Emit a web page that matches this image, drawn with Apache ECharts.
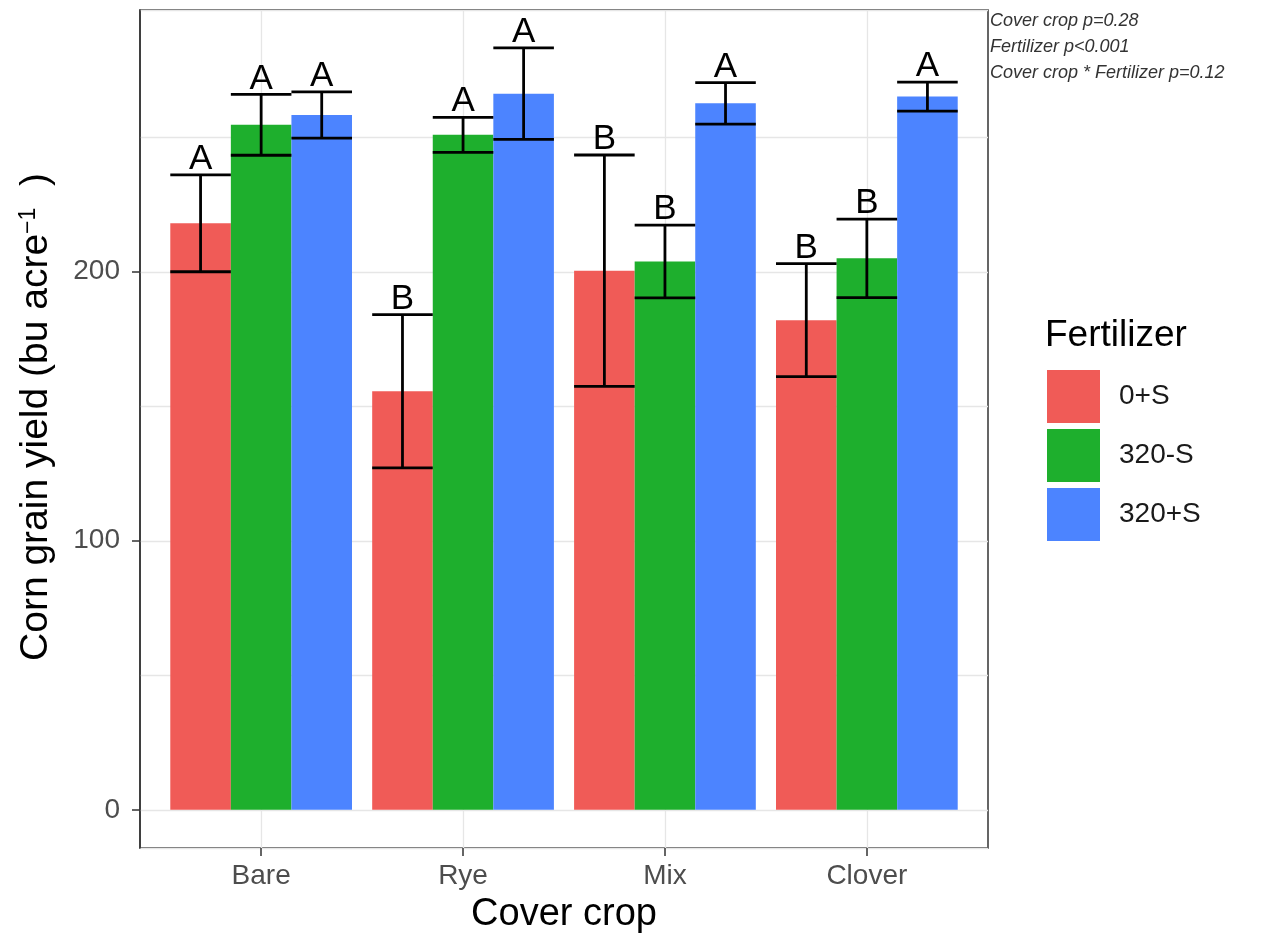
<!DOCTYPE html>
<html>
<head>
<meta charset="utf-8">
<script src="https://cdn.jsdelivr.net/npm/echarts@6/dist/echarts.min.js"></script>
<style>
html,body{margin:0;padding:0;background:#fff;}
#chart{width:1261px;height:939px;}
</style>
</head>
<body>
<div id="chart"></div>
<script>
// ---- data ----
const categories = ['Bare', 'Rye', 'Mix', 'Clover'];
const fertilizers = ['0+S', '320-S', '320+S'];
const yield0S   = [218.0, 155.6, 200.4, 182.0];
const yield320mS = [254.6, 250.9, 203.8, 205.0];
const yield320pS = [258.3, 266.2, 262.6, 265.1];
const err0S   = [18.0, 28.5, 43.0, 21.0];
const err320mS = [11.3, 6.5, 13.5, 14.6];
const err320pS = [8.6, 17.0, 7.7, 5.4];
const letters0S   = ['A', 'B', 'B', 'B'];
const letters320mS = ['A', 'A', 'B', 'B'];
const letters320pS = ['A', 'A', 'A', 'A'];
const yTickValues = [0, 100, 200];
const statsLines = ['Cover crop p=0.28', 'Fertilizer p<0.001', 'Cover crop * Fertilizer p=0.12'];

const colors = ['#F05B57', '#1EAF2D', '#4C84FF'];
const FONT = 'Liberation Sans, Arial, Helvetica, sans-serif';
const yMin = -14.2, yMax = 297.3;

const means = [yield0S, yield320mS, yield320pS];
const errs = [err0S, err320mS, err320pS];
const letters = [letters0S, letters320mS, letters320pS];

const errData = [];
const errLetters = [];
for (let s = 0; s < 3; s++) {
  for (let c = 0; c < categories.length; c++) {
    errData.push([c, s, means[s][c] - errs[s][c], means[s][c] + errs[s][c]]);
    errLetters.push(letters[s][c]);
  }
}

const chart = echarts.init(document.getElementById('chart'), null, {renderer: 'canvas'});

const gridTop = 10, gridBottom = 91;
const panelLeft = 140, panelRight = 273; // 140..988
const bandExpand = 0.1 * 848 / 4.2;

const option = {
  backgroundColor: '#fff',
  animation: false,
  textStyle: {fontFamily: FONT},
  grid: [
    {left: panelLeft, right: panelRight, top: gridTop, bottom: gridBottom, show: true,
     borderColor: '#333', borderWidth: 1.5, backgroundColor: '#fff', containLabel: false},
    {left: panelLeft + bandExpand, right: panelRight + bandExpand, top: gridTop, bottom: gridBottom, containLabel: false}
  ],
  xAxis: [
    {type: 'value', gridIndex: 0, min: 0, max: 1, show: false},
    {type: 'category', gridIndex: 1, data: categories,
     axisLine: {show: false, onZero: false},
     axisTick: {show: true, alignWithLabel: true, length: 8, lineStyle: {color: '#333', width: 1.5}},
     axisLabel: {fontSize: 28, color: '#4D4D4D', margin: 14, fontFamily: FONT},
     splitLine: {show: false},
     name: 'Cover crop', nameLocation: 'middle', nameGap: 48,
     nameTextStyle: {fontSize: 38, color: '#000', fontFamily: FONT}}
  ],
  yAxis: [
    {type: 'value', gridIndex: 0, min: yMin, max: yMax,
     axisLine: {show: true, lineStyle: {color: '#333', width: 1.5}},
     axisTick: {show: true, length: 8, customValues: yTickValues, lineStyle: {color: '#333', width: 1.5}},
     axisLabel: {fontSize: 28, color: '#4D4D4D', margin: 20, customValues: yTickValues, fontFamily: FONT,
       formatter: function (v) { return (v % 100 === 0) ? String(v) : ''; }},
     splitLine: {show: false},
     name: 'Corn grain yield (bu acre{sup|−1}  )', nameLocation: 'middle', nameGap: 84,
     nameTextStyle: {fontSize: 39, color: '#000', fontFamily: FONT, padding: [0, 0, 0, 24],
       rich: {sup: {fontSize: 23, verticalAlign: 'top', lineHeight: 39, padding: [0, 0, 18, 0], fontFamily: FONT, color: '#000'}}}},
    {type: 'value', gridIndex: 0, min: yMin, max: yMax, splitNumber: 6,
     axisLine: {show: false}, axisTick: {show: false}, axisLabel: {show: false},
     splitLine: {show: true, lineStyle: {color: '#E6E6E6', width: 1.3}}},
    {type: 'value', gridIndex: 1, min: yMin, max: yMax, show: false, splitLine: {show: false}}
  ],
  legend: {
    orient: 'vertical', left: 1047, top: 370, padding: 0,
    itemWidth: 53, itemHeight: 53, itemGap: 6, icon: 'rect',
    data: fertilizers,
    textStyle: {fontSize: 28, color: '#1a1a1a', fontFamily: FONT, padding: [0, 0, 0, 14]}
  },
  graphic: [
    {type: 'text', left: 1045, top: 317,
     style: {text: 'Fertilizer', fontSize: 37, fill: '#000', fontFamily: FONT}},
    {type: 'text', left: 990, top: 8,
     style: {text: statsLines.join('\n'), fontSize: 18, lineHeight: 26, fontStyle: 'italic', fill: '#333', fontFamily: FONT}}
  ],
  series: [
    {type: 'line', xAxisIndex: 1, yAxisIndex: 2, data: [], z: 1, silent: true,
     markLine: {silent: true, z: 1, symbol: 'none', label: {show: false},
       lineStyle: {color: '#E6E6E6', width: 1.3, type: 'solid'},
       data: categories.map(c => ({xAxis: c}))}},
    {name: fertilizers[0], type: 'bar', xAxisIndex: 1, yAxisIndex: 2, data: yield0S,
     barGap: '0%', barCategoryGap: '10%', itemStyle: {color: colors[0]}, z: 2},
    {name: fertilizers[1], type: 'bar', xAxisIndex: 1, yAxisIndex: 2, data: yield320mS,
     barGap: '0%', barCategoryGap: '10%', itemStyle: {color: colors[1]}, z: 2},
    {name: fertilizers[2], type: 'bar', xAxisIndex: 1, yAxisIndex: 2, data: yield320pS,
     barGap: '0%', barCategoryGap: '10%', itemStyle: {color: colors[2]}, z: 2},
    {type: 'custom', xAxisIndex: 1, yAxisIndex: 2, data: errData, z: 5, silent: true,
     encode: {x: 0, y: [2, 3]},
     renderItem: function (params, api) {
       const cat = api.value(0), s = api.value(1), lo = api.value(2), hi = api.value(3);
       const band = api.size([1, 0])[0];
       const pLo = api.coord([cat, lo]);
       const pHi = api.coord([cat, hi]);
       const cx = pLo[0] + (s - 1) * 0.3 * band;
       const hw = 0.15 * band;
       const st = {stroke: '#000', lineWidth: 2.8};
       return {type: 'group', children: [
         {type: 'line', shape: {x1: cx, y1: pLo[1], x2: cx, y2: pHi[1]}, style: st},
         {type: 'line', shape: {x1: cx - hw, y1: pLo[1], x2: cx + hw, y2: pLo[1]}, style: st},
         {type: 'line', shape: {x1: cx - hw, y1: pHi[1], x2: cx + hw, y2: pHi[1]}, style: st},
         {type: 'text', style: {text: errLetters[params.dataIndex], x: cx, y: pHi[1] + 2,
           align: 'center', verticalAlign: 'bottom', fontSize: 35, fill: '#000', fontFamily: FONT}}
       ]};
     }}
  ]
};
chart.setOption(option);
</script>
</body>
</html>
